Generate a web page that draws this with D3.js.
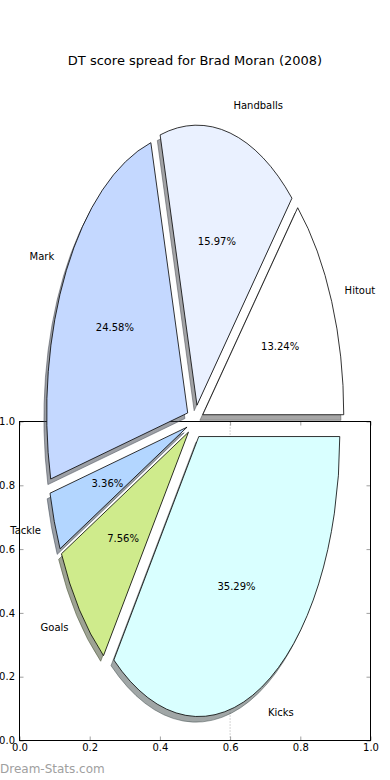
<!DOCTYPE html>
<html lang="en">
<head>
<meta charset="UTF-8">
<title>DT score spread for Brad Moran (2008)</title>
<script src="https://d3js.org/d3.v7.min.js"></script>
<style>
  body { margin: 0; background: #fff; }
  svg { display: block; font-family: 'DejaVu Sans', sans-serif; }
</style>
</head>
<body>
<svg id="chart" width="390" height="780"></svg>
<script>
// data
var labels = ["Hitout", "Handballs", "Mark", "Tackle", "Goals", "Kicks"];
var shares = [13.24, 15.97, 24.58, 3.36, 7.56, 35.29];
var colors = ["#ffffff", "#eaf1ff", "#c4d8ff", "#b3d6ff", "#cfeb8c", "#d9ffff"];
var ticks = [0, 0.2, 0.4, 0.6, 0.8, 1.0];
var gridAt = [0.6];

var svg = d3.select("#chart");

// the (empty) axes underneath the pie
var x = d3.scaleLinear().domain([0, 1]).range([19.5, 370.5]);
var y = d3.scaleLinear().domain([0, 1]).range([740.5, 421.5]);
var fmt = d3.format(".1f");

svg.selectAll("line.grid").data(gridAt).enter().append("line")
  .attr("class", "grid")
  .attr("x1", d => x(d)).attr("x2", d => x(d))
  .attr("y1", y(1)).attr("y2", y(0))
  .attr("stroke", "#aaa").attr("stroke-dasharray", "1,2");

function styleAxis(g) {
  g.select(".domain").remove();
  g.selectAll(".tick line").attr("stroke", "#888").attr("stroke-width", 0.8);
  g.selectAll(".tick text").attr("fill", "#000").attr("font-size", 10).attr("font-family", "DejaVu Sans");
}

svg.append("g").attr("transform", "translate(0," + y(0) + ")")
  .call(d3.axisBottom(x).tickValues(ticks).tickFormat(fmt).tickSizeInner(-4).tickSizeOuter(0).tickPadding(3))
  .call(styleAxis);
svg.append("g").attr("transform", "translate(0," + y(1) + ")")
  .call(d3.axisTop(x).tickValues(ticks).tickFormat("").tickSizeInner(-4).tickSizeOuter(0))
  .call(styleAxis);
svg.append("g").attr("transform", "translate(" + x(0) + ",0)")
  .call(d3.axisLeft(y).tickValues(ticks).tickFormat(fmt).tickSizeInner(-4).tickSizeOuter(0).tickPadding(4.5))
  .call(styleAxis);
svg.append("g").attr("transform", "translate(" + x(1) + ",0)")
  .call(d3.axisRight(y).tickValues(ticks).tickFormat("").tickSizeInner(-4).tickSizeOuter(0))
  .call(styleAxis);

svg.append("rect")
  .attr("x", x(0)).attr("y", y(1))
  .attr("width", x(1) - x(0)).attr("height", y(0) - y(1))
  .attr("fill", "none").attr("stroke", "#000").attr("stroke-width", 1);

// pie (stretched into an ellipse, every wedge exploded by 0.06)
var cx = x(0.5), cy = y(1);
var rx = 141, ry = 280;
var explode = 0.06;

var pie = d3.pie().sort(null).value(d => d)
  .startAngle(Math.PI / 2).endAngle(Math.PI / 2 - 2 * Math.PI);
var arcs = pie(shares);

function pt(ox, oy, a, r) {
  return [ox + rx * r * Math.sin(a), oy - ry * r * Math.cos(a)];
}

arcs.forEach(function(d) {
  d.mid = (d.startAngle + d.endAngle) / 2;
  var o = pt(cx, cy, d.mid, explode);
  d.ox = o[0]; d.oy = o[1];
  var p0 = pt(d.ox, d.oy, d.startAngle, 1);
  var p1 = pt(d.ox, d.oy, d.endAngle, 1);
  var large = Math.abs(d.endAngle - d.startAngle) > Math.PI ? 1 : 0;
  d.path = "M" + d.ox + "," + d.oy + "L" + p0[0] + "," + p0[1] +
    "A" + rx + "," + ry + " 0 " + large + " 0 " + p1[0] + "," + p1[1] + "Z";
});

function shadowColor(c) {
  var k = d3.rgb(c);
  return "rgba(" + Math.round(k.r * 0.3) + "," + Math.round(k.g * 0.3) + "," + Math.round(k.b * 0.3) + ",0.5)";
}

svg.append("g").attr("transform", "translate(" + (-0.02 * rx) + "," + (0.02 * ry) + ")")
  .selectAll("path").data(arcs).enter().append("path")
  .attr("d", d => d.path)
  .attr("fill", (d, i) => shadowColor(colors[i]))
  .attr("stroke", (d, i) => shadowColor(colors[i]))
  .attr("stroke-width", 1);

svg.append("g").selectAll("path").data(arcs).enter().append("path")
  .attr("d", d => d.path)
  .attr("fill", (d, i) => colors[i])
  .attr("stroke", "#000")
  .attr("stroke-width", 0.8)
  .attr("stroke-linejoin", "round");

svg.append("g").selectAll("text").data(arcs).enter().append("text")
  .attr("x", d => pt(d.ox, d.oy, d.mid, 1.1)[0])
  .attr("y", d => pt(d.ox, d.oy, d.mid, 1.1)[1])
  .attr("dy", "0.35em")
  .attr("text-anchor", d => Math.sin(d.mid) > 0 ? "start" : "end")
  .attr("font-size", 10)
  .text((d, i) => labels[i]);

svg.append("g").selectAll("text").data(arcs).enter().append("text")
  .attr("x", d => pt(d.ox, d.oy, d.mid, 0.6)[0])
  .attr("y", d => pt(d.ox, d.oy, d.mid, 0.6)[1])
  .attr("dy", "0.35em")
  .attr("text-anchor", "middle")
  .attr("font-size", 10)
  .text(d => d3.format(".2f")(d.data) + "%");

svg.append("text")
  .attr("x", 195).attr("y", 65)
  .attr("text-anchor", "middle")
  .attr("font-size", 13)
  .text("DT score spread for Brad Moran (2008)");

svg.append("text")
  .attr("x", 0).attr("y", 773)
  .attr("font-size", 12)
  .attr("fill", "#a0a0a0")
  .text("Dream-Stats.com");
</script>
</body>
</html>
